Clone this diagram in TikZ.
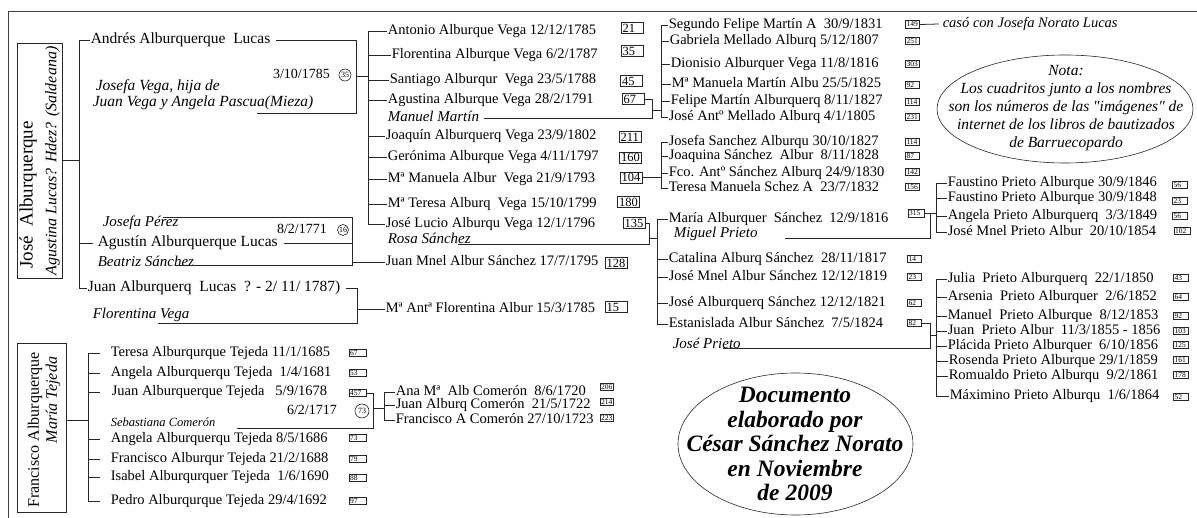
\documentclass[tikz,border=0pt]{standalone}
\usepackage{fontspec}
\setmainfont{Liberation Serif}[Ligatures=TeXOff]
\usetikzlibrary{shapes.geometric}
\begin{document}
\begin{tikzpicture}[x=1pt,y=-1pt,
  every node/.style={inner sep=0pt,outer sep=0pt},
  ln/.style={line width=0.8pt,draw=black!85},
  nm/.style={anchor=west,inner xsep=0.8pt,font=\fontsize{14.5}{16}\selectfont,text height=10pt,text depth=3pt},
  big/.style={anchor=west,inner xsep=0.8pt,font=\fontsize{15.5}{17}\selectfont,text height=10.5pt,text depth=3.5pt},
  itx/.style={anchor=west,inner xsep=0.8pt,font=\fontsize{15}{17}\selectfont\itshape,text height=10pt,text depth=3.5pt},
  sitx/.style={anchor=west,inner xsep=0.8pt,font=\fontsize{12.5}{14}\selectfont\itshape,text height=8.5pt,text depth=3pt},
  dt/.style={anchor=west,font=\fontsize{14}{16}\selectfont,text height=10pt,text depth=3pt},
  lbox/.style={draw=black!85,line width=0.7pt,text width=19pt,align=left,inner xsep=1.5pt,minimum height=11pt,font=\fontsize{12.5}{12.5}\selectfont},
  sbox/.style={draw=black!85,line width=0.6pt,text width=12pt,align=left,inner xsep=1.2pt,minimum height=7.5pt,font=\fontsize{7.5}{7.5}\selectfont},
  circ/.style={draw=black!85,circle,line width=0.6pt,minimum size=12pt,font=\fontsize{8}{8}\selectfont},
]
\useasboundingbox (0,0) rectangle (1197,518);
% frame
\draw[line width=1pt,draw=black!75] (8,518) -- (8,12) -- (1197,12);

% ================= José Alburquerque family
\node[draw=black!85,line width=0.8pt,minimum width=45pt,minimum height=235pt] (jbox) at (39.5,160.5) {};
\node[rotate=90,font=\fontsize{19}{20}\selectfont] (jose) at (28,195) {José\ \ Alburquerque};
\node[rotate=90,font=\fontsize{16}{17}\selectfont\itshape] (agustina) at (52.5,161) {Agustina Lucas? Hdez? (Saldeana)};
\coordinate (bx0) at (79,0);

\node[big] (andres) at (90,40) {Andrés Alburquerque\ \ Lucas};
\node[itx,font=\fontsize{15.5}{17}\selectfont\itshape] (jv1) at (95,87) {Josefa Vega, hija de};
\node[itx,font=\fontsize{15.5}{17}\selectfont\itshape] (jv2) at (92,103) {Juan Vega y Angela Pascua(Mieza)};
\node[itx] (jperez) at (102,223) {Josefa Pérez};
\node[big] (agustin) at (97,243) {Agustín Alburquerque Lucas};
\node[itx] (beatriz) at (97,263) {Beatriz Sánchez};
\node[big] (juanA) at (87,288) {Juan Alburquerq\ \ Lucas\ \ ? - 2/ 11/ 1787)};
\node[itx] (fvega) at (92,315) {Florentina Vega};

\draw[ln] (jbox.east) -- (jbox.east -| bx0);
\draw[ln] (andres.west) -- (andres.west -| bx0) -- (juanA.west -| bx0) -- (juanA.west);
\draw[ln] (agustin.west -| bx0) -- ([xshift=-4pt]agustin.west);

% Andrés + Josefa Vega
\node[dt] (d1785) at (273,75) {3/10/1785};
\node[circ] (c35) at (345,75) {35};
\draw[ln] ([xshift=5pt]andres.east) -- (356,40) -- (356,113) -- (257,113);
\coordinate (bx1) at (368,0);
\draw[ln] (356,76) -- (368,76);

\node[nm] (a1) at (387,31) {Antonio Alburque Vega 12/12/1785};
\node[nm] (a2) at (391,55) {Florentina Alburque Vega 6/2/1787};
\node[nm] (a3) at (389,80.5) {Santiago Alburqur\ \ Vega 23/5/1788};
\node[nm] (a4) at (387,100) {Agustina Alburque Vega 28/2/1791};
\node[itx] (manuel) at (387,118) {Manuel Martín};
\node[nm] (a5) at (385,136) {Joaquín Alburquerq Vega 23/9/1802};
\node[nm] (a6) at (387,157) {Gerónima Alburque Vega 4/11/1797};
\node[nm] (a7) at (387,179) {Mª Manuela Albur\ \ Vega 21/9/1793};
\node[nm] (a8) at (387,204) {Mª Teresa Alburq\ \ Vega 15/10/1799};
\node[nm] (a9) at (385,224) {José Lucio Alburqu Vega 12/1/1796};
\node[itx] (rosa) at (387,240) {Rosa Sánchez};
\node[nm] (jm) at (385,262.5) {Juan Mnel Albur Sánchez 17/7/1795};
\node[nm] (ma) at (385,309) {Mª Antª Florentina Albur 15/3/1785};

\node[lbox] (n21) at (632,28) {21};
\node[lbox] (n35) at (632,51) {35};
\node[lbox] (n45) at (631.5,81) {45};
\node[lbox] (n67) at (633,99) {67};
\node[lbox] (n211) at (630,137) {211};
\node[lbox] (n160) at (630.5,157.5) {160};
\node[lbox] (n104) at (631,177.5) {104};
\node[lbox] (n180) at (628.5,202) {180};
\node[lbox] (n135) at (634,223) {135};
\node[lbox] (n128) at (616,263) {128};
\node[lbox] (n15) at (616,307) {15};

\draw[ln] (a1.west) -- (a1.west -| bx1) -- (a9.west -| bx1) -- (a9.west);
\foreach \n in {a2,a3,a4,a5,a6,a7,a8} \draw[ln] (\n.west -| bx1) -- (\n.west);

% Agustín + Josefa Pérez / Beatriz Sánchez
\node[dt] (d1771) at (277,230) {8/2/1771};
\node[circ,minimum size=11pt] (c16) at (343,230) {16};
\draw[ln] (163,217) -- (352,217) -- (352,265) -- (175,265);
\draw[ln] ([xshift=5pt]agustin.east) -- (352,243);
\draw[ln] (352,262.5) -- (jm.west);

% Juan + Florentina Vega
\draw[ln] ([xshift=5pt]juanA.east) -- (357,288) -- (357,323) -- (158,323);
\draw[ln] (357,309) -- (ma.west);

% Agustina + Manuel Martín
\coordinate (bx2) at (661,0);
\draw[ln] ([xshift=4pt]manuel.east) -- (652,118) -- (652,99) -- (n67.east);
\draw[ln] (652,110) -- (661,110);
\node[nm] (s1) at (668,25) {Segundo Felipe Martín A\ \ 30/9/1831};
\node[nm] (s2) at (669,41) {Gabriela Mellado Alburq 5/12/1807};
\node[nm] (s3) at (670,64) {Dionisio Alburquer Vega 11/8/1816};
\node[nm] (s4) at (671,84) {Mª Manuela Martín Albu 25/5/1825};
\node[nm] (s5) at (670,101) {Felipe Martín Alburquerq 8/11/1827};
\node[nm] (s6) at (668,117) {José Antº Mellado Alburq 4/1/1805};
\draw[ln] (s1.west) -- (s1.west -| bx2) -- (s6.west -| bx2) -- (s6.west);
\foreach \n in {s2,s3,s4,s5} \draw[ln] (\n.west -| bx2) -- (\n.west);
\node[sbox] (b149) at (912.5,24.5) {149};
\node[sbox] (b251) at (912.5,41) {251};
\node[sbox] (b303) at (912.5,64) {303};
\node[sbox] (b92a) at (912.5,85) {92};
\node[sbox] (b114a) at (912.5,102) {114};
\node[sbox] (b231) at (912.5,117) {231};
\node[itx,font=\fontsize{14.5}{16}\selectfont\itshape] (caso) at (942,24) {casó con Josefa Norato Lucas};
\draw[ln] (b149.east) -- ([xshift=-3pt]caso.west);

% Mª Manuela children
\coordinate (bx3) at (661,0);
\draw[ln] (n104.east) -- (n104.east -| bx3);
\node[nm] (t1) at (668,142) {Josefa Sanchez Alburqu 30/10/1827};
\node[nm] (t2) at (668,156) {Joaquina Sánchez\ \ Albur\ \ 8/11/1828};
\node[nm] (t3) at (668,173) {Fco. Antº Sánchez Alburq 24/9/1830};
\node[nm] (t4) at (668,188) {Teresa Manuela Schez A\ \ 23/7/1832};
\draw[ln] (t1.west) -- (t1.west -| bx3) -- (t4.west -| bx3) -- (t4.west);
\foreach \n in {t2,t3} \draw[ln] (\n.west -| bx3) -- (\n.west);
\node[sbox] (b114b) at (912.5,142) {114};
\node[sbox] (b87) at (912.5,156) {87};
\node[sbox] (b142) at (912.5,172) {142};
\node[sbox] (b156) at (912.5,187) {156};

% José Lucio + Rosa Sánchez
\coordinate (bx4) at (657,0);
\draw[ln] (458,244) -- (649,244) -- (649,223) -- (n135.east);
\draw[ln] (649,238) -- (657,238);
\node[nm] (r1) at (668,219.5) {María Alburquer\ \ Sánchez\ \ 12/9/1816};
\node[itx,text depth=2.5pt] (miguel) at (673,234) {Miguel Prieto};
\node[nm] (r2) at (668,259) {Catalina Alburq Sánchez\ \ 28/11/1817};
\node[nm] (r3) at (668,277) {José Mnel Albur Sánchez 12/12/1819};
\node[nm] (r4) at (668,303.5) {José Alburquerq Sánchez 12/12/1821};
\node[nm] (r5) at (668,324) {Estanislada Albur Sánchez\ \ 7/5/1824};
\node[itx] (jprieto) at (672,345) {José Prieto};
\draw[ln] (r1.west) -- (r1.west -| bx4) -- (r5.west -| bx4) -- (r5.west);
\foreach \n in {r2,r3,r4} \draw[ln] (\n.west -| bx4) -- (\n.west);
\node[sbox,text width=14pt] (b315) at (916,213.5) {315};
\node[sbox] (b14) at (914.5,259) {14};
\node[sbox] (b23a) at (914.5,277) {23};
\node[sbox] (b62) at (914.5,303) {62};
\node[sbox] (b82) at (914.5,323) {82};

% María + Miguel Prieto
\coordinate (bx5) at (936,0);
\draw[ln] (785,238) -- (930,238) -- (930,213.5);
\draw[ln] (b315.east) -- (b315.east -| bx5);
\node[nm] (u1) at (947,183) {Faustino Prieto Alburque 30/9/1846};
\node[nm] (u2) at (947,198) {Faustino Prieto Alburque 30/9/1848};
\node[nm] (u3) at (947,216) {Angela Prieto Alburquerq\ \ 3/3/1849};
\node[nm] (u4) at (947,232) {José Mnel Prieto Albur\ \ 20/10/1854};
\draw[ln] (u1.west) -- (u1.west -| bx5) -- (u4.west -| bx5) -- (u4.west);
\foreach \n in {u2,u3} \draw[ln] (\n.west -| bx5) -- (\n.west);
\node[sbox,text width=13pt] (b56a) at (1180,185) {56};
\node[sbox,text width=13pt] (b23b) at (1180,201) {23};
\node[sbox,text width=13pt] (b56b) at (1180,216) {56};
\node[sbox,text width=14pt] (b102) at (1182,231) {102};

% Estanislada + José Prieto
\coordinate (bx6) at (936,0);
\draw[ln] (723,348) -- (930,348) -- (930,323) -- (b82.east);
\draw[ln] (930,335) -- (936,335);
\node[nm] (v1) at (947,279) {Julia\ \ Prieto Alburquerq\ \ 22/1/1850};
\node[nm] (v2) at (947,297) {Arsenia\ \ Prieto Alburquer\ \ 2/6/1852};
\node[nm] (v3) at (947,316) {Manuel\ \ Prieto Alburque\ \ 8/12/1853};
\node[nm] (v4) at (947,331) {Juan\ \ Prieto Albur\ \ 11/3/1855 - 1856};
\node[nm] (v5) at (947,346) {Plácida Prieto Alburquer\ \ 6/10/1856};
\node[nm] (v6) at (948,361) {Rosenda Prieto Alburque 29/1/1859};
\node[nm] (v7) at (948,376) {Romualdo Prieto Alburqu\ \ 9/2/1861};
\node[nm] (v8) at (949,396) {Máximino Prieto Alburqu\ \ 1/6/1864};
\draw[ln] (v1.west) -- (v1.west -| bx6) -- (v8.west -| bx6) -- (v8.west);
\foreach \n in {v2,v3,v4,v5,v6,v7} \draw[ln] (\n.west -| bx6) -- (\n.west);
\node[sbox,text width=13pt] (b43) at (1181,278) {43};
\node[sbox,text width=13pt] (b64) at (1181,297) {64};
\node[sbox,text width=13pt] (b92b) at (1181,316) {92};
\node[sbox,text width=13pt] (b103) at (1181,331) {103};
\node[sbox,text width=13pt] (b125) at (1181,345) {125};
\node[sbox,text width=13pt] (b161) at (1181,360) {161};
\node[sbox,text width=13pt] (b178) at (1181,375) {178};
\node[sbox,text width=13pt] (b52) at (1181,397) {52};

% ================= Francisco Alburquerque family
\node[draw=black!85,line width=0.8pt,minimum width=49pt,minimum height=169pt] (fbox) at (41.5,427.5) {};
\node[rotate=90,font=\fontsize{16}{17}\selectfont] (fran) at (35,430) {Francisco Alburquerque};
\node[rotate=90,font=\fontsize{16}{17}\selectfont\itshape] (maria) at (53,400) {María Tejeda};
\coordinate (bx7) at (88,0);
\coordinate (tk7) at (100,0);
\draw[ln] ([yshift=7.5pt]fbox.east) -- ([yshift=7.5pt]fbox.east -| bx7);
\node[nm] (f1) at (110,353) {Teresa Alburqurque Tejeda 11/1/1685};
\node[nm] (f2) at (110,373) {Angela Alburquerqu Tejeda\ \ 1/4/1681};
\node[nm] (f3) at (111,392) {Juan Alburquerque Tejeda\ \ \ 5/9/1678};
\node[dt] (d1717) at (287,411) {6/2/1717};
\node[sitx] (seb) at (110,424) {Sebastiana Comerón};
\node[nm] (f4) at (110,439) {Angela Alburquerqu Tejeda 8/5/1686};
\node[nm] (f5) at (110,459) {Francisco Alburqur Tejeda 21/2/1688};
\node[nm] (f6) at (110,477) {Isabel Alburqurquer Tejeda\ \ 1/6/1690};
\node[nm] (f7) at (110,501) {Pedro Alburqurque Tejeda 29/4/1692};
\draw[ln] (f1.west -| tk7) -- (f1.west -| bx7) -- (f7.west -| bx7) -- (f7.west -| tk7);
\foreach \n in {f2,f3,f4,f5,f6} \draw[ln] (\n.west -| bx7) -- (\n.west -| tk7);
\node[sbox,text width=15pt] (b67) at (357.5,353) {67};
\node[sbox,text width=15pt] (b53) at (357.5,373) {53};
\node[sbox,text width=15pt] (b457) at (357.5,393) {457};
\node[circ,minimum size=14pt] (c73) at (362,411) {73};
\node[sbox,text width=15pt] (b73) at (357.5,438) {73};
\node[sbox,text width=15pt] (b79) at (357.5,459) {79};
\node[sbox,text width=15pt] (b88) at (357.5,478) {88};
\node[sbox,text width=15pt] (b97) at (357.5,501) {97};

% Juan + Sebastiana Comerón
\coordinate (bx8) at (384,0);
\draw[ln] (b457.east) -- (373,393) -- (373,428) -- (237,428);
\draw[ln] (373,408) -- (384,408);
\node[nm] (c1) at (395,392) {Ana Mª\ \ Alb Comerón\ \ 8/6/1720};
\node[nm] (c2) at (395,405) {Juan Alburq Comerón\ \ 21/5/1722};
\node[nm] (c3) at (395,420) {Francisco A Comerón 27/10/1723};
\draw[ln] (c1.west) -- (c1.west -| bx8) -- (c3.west -| bx8) -- (c3.west);
\draw[ln] (c2.west -| bx8) -- (c2.west);
\node[sbox,text width=11pt] (b206) at (606.5,387) {206};
\node[sbox,text width=11pt] (b214) at (606.5,402) {214};
\node[sbox,text width=11pt] (b223) at (606.5,418) {223};

% ================= notes
\node[draw=black!85,line width=0.6pt,ellipse,minimum width=256pt,minimum height=108pt] (notaell) at (1065,109) {};
\node[align=center,font=\fontsize{15.5}{17.8}\selectfont\itshape] (nota) at (1066,108) {Nota:\\Los cuadritos junto a los nombres\\son los números de las "imágenes" de\\internet de los libros de bautizados\\de Barruecopardo};
\node[draw=black!85,line width=0.6pt,ellipse,minimum width=235pt,minimum height=142pt] (docell) at (795.5,444) {};
\node[align=center,font=\fontsize{23.5}{24.5}\selectfont\bfseries\itshape] (doc) at (795,444) {Documento\\elaborado por\\César Sánchez Norato\\en Noviembre\\de 2009};
\end{tikzpicture}
\end{document}
